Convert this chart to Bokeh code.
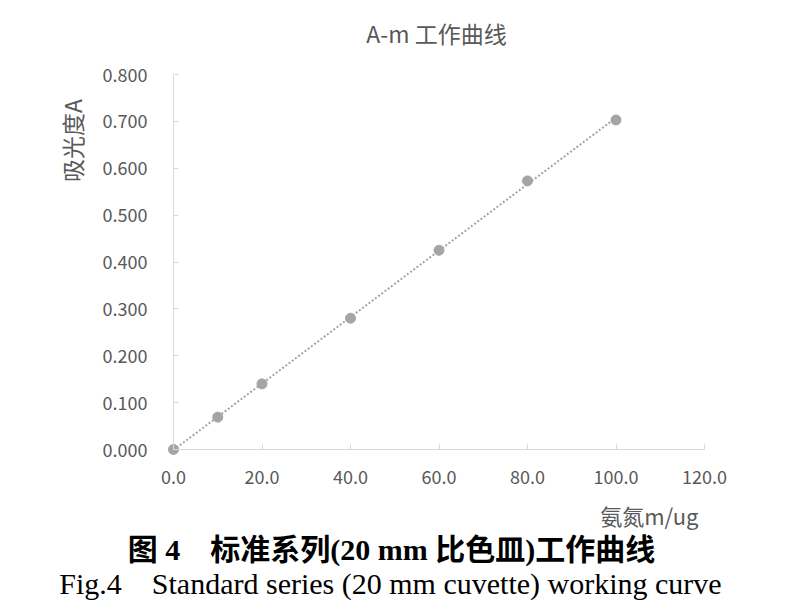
import numpy as np
from bokeh.plotting import figure
from bokeh.models import NumeralTickFormatter, FixedTicker, Range1d, Label
from bokeh.embed import file_html
from bokeh.resources import INLINE

# data
mass_ug = [0.0, 10.0, 20.0, 40.0, 60.0, 80.0, 100.0]
absorbance = [0.000, 0.069, 0.140, 0.280, 0.425, 0.573, 0.703]
x_ticks = [0, 20, 40, 60, 80, 100, 120]
y_ticks = [0.0, 0.1, 0.2, 0.3, 0.4, 0.5, 0.6, 0.7, 0.8]

title_text = "A-m 工作曲线"
y_label_text = "吸光度A"
x_label_text = "氨氮m/ug"
caption_cn = "图 4\u3000标准系列(20 mm 比色皿)工作曲线"
caption_en = "Fig.4\u3000Standard series (20 mm cuvette) working curve"

SANS = "Noto Sans CJK SC"
SERIF = "Liberation Serif, Noto Sans CJK SC"
GREY_TXT = "#595959"
AXIS_C = "#d9d9d9"
PT_C = "#a5a5a5"

# page layout (pixels): the frame fills the whole figure so that texts
# and the origin dot are not clipped; axes are fixed at the origin
W, H = 781, 601
OX, OY = 173, 449          # pixel position of the origin
PX_W, PX_H = 531, 375      # pixel span of the x and y tick ranges
x_lo, x_hi = min(x_ticks), max(x_ticks)
y_lo, y_hi = min(y_ticks), max(y_ticks)
ux = (x_hi - x_lo) / PX_W  # data per pixel
uy = (y_hi - y_lo) / PX_H


def dx(px):
    return x_lo + (px - OX) * ux


def dy(py):
    return y_lo + (OY - py) * uy


p = figure(width=W, height=H, min_border=0,
           x_range=Range1d(dx(0), dx(W)), y_range=Range1d(dy(H), dy(0)),
           output_backend="svg", toolbar_location=None,
           background_fill_color="white", border_fill_color="white")
p.outline_line_color = None
p.xgrid.visible = False
p.ygrid.visible = False

for ax in (p.xaxis[0], p.yaxis[0]):
    ax.axis_line_color = AXIS_C
    ax.axis_line_width = 1
    ax.major_tick_line_color = AXIS_C
    ax.major_tick_in = 5
    ax.major_tick_out = 0
    ax.minor_tick_line_color = None
    ax.major_label_text_color = GREY_TXT
    ax.major_label_text_font = SANS
    ax.major_label_text_font_size = "18px"
    ax.fixed_location = 0

p.xaxis.ticker = FixedTicker(ticks=x_ticks)
p.yaxis.ticker = FixedTicker(ticks=y_ticks)
p.xaxis.bounds = (x_lo, x_hi)
p.yaxis.bounds = (y_lo, y_hi)
p.xaxis.formatter = NumeralTickFormatter(format="0.0")
p.yaxis.formatter = NumeralTickFormatter(format="0.000")
p.xaxis.major_label_standoff = 20
p.yaxis.major_label_standoff = 26

# linear trendline fitted to the data
coef = np.polyfit(mass_ug, absorbance, 1)
tx = [min(mass_ug), max(mass_ug)]
ty = [coef[0] * v + coef[1] for v in tx]
p.line(tx, ty, line_color=PT_C, line_width=2, line_dash="2 2")
p.scatter(mass_ug, absorbance, size=10, fill_color=PT_C, line_color=PT_C)

p.add_layout(Label(x=dx(436), y=dy(32), text=title_text, text_align="center",
                   text_baseline="middle", text_font=SANS,
                   text_font_size="23px", text_color=GREY_TXT))
p.add_layout(Label(x=dx(71), y=dy(140), text=y_label_text, angle=np.pi / 2,
                   text_align="center", text_baseline="middle",
                   text_font=SANS, text_font_size="23px",
                   text_color=GREY_TXT))
p.add_layout(Label(x=dx(698), y=dy(514), text=x_label_text, text_align="right",
                   text_baseline="middle", text_font=SANS,
                   text_font_size="22px", text_color=GREY_TXT))
p.add_layout(Label(x=dx(391), y=dy(549), text=caption_cn, text_align="center",
                   text_baseline="middle", text_font=SERIF,
                   text_font_size="30px", text_font_style="bold",
                   text_color="black"))
p.add_layout(Label(x=dx(390), y=dy(583), text=caption_en, text_align="center",
                   text_baseline="middle", text_font=SERIF,
                   text_font_size="30px", text_color="black"))

open("out.html", "w").write(file_html(p, INLINE))
